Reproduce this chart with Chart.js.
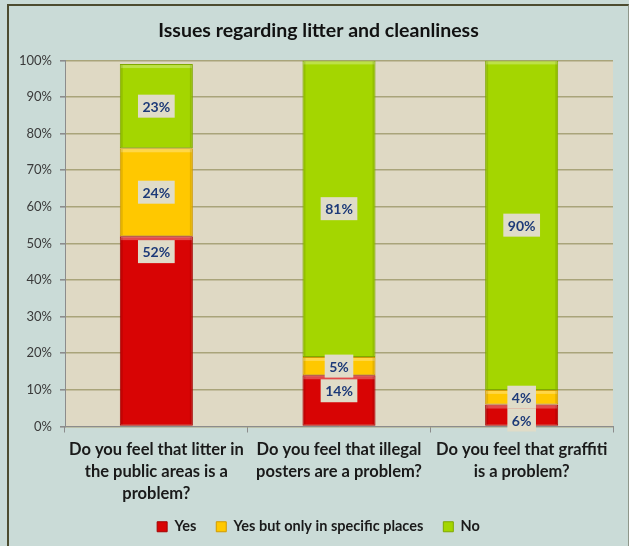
<!DOCTYPE html>
<html>
<head>
<meta charset="utf-8">
<title>Issues regarding litter and cleanliness</title>
<script src="https://cdn.jsdelivr.net/npm/chart.js@4.4.0/dist/chart.umd.min.js"></script>
<style>
  html, body { margin: 0; padding: 0; background: #cadbd7; }
  #frame {
    position: absolute; left: 7px; top: 4px; width: 619px; height: 560px;
    border-left: 2px solid #4d4c30; border-top: 2px solid #4d4c30; border-right: 1px solid #8f978a;
  }
  #box { position: absolute; left: 0; top: 0; width: 629px; height: 546px; }
</style>
</head>
<body>
<div id="frame"></div>
<div id="box"><canvas id="chart" width="629" height="546"></canvas></div>
<script>
const categories = [
  ["Do you feel that litter in", "the public areas is a", "problem?"],
  ["Do you feel that illegal", "posters are a problem?"],
  ["Do you feel that graffiti", "is a problem?"]
];
const seriesNames = ["Yes", "Yes but only in specific places", "No"];
const yesValues = [52, 14, 6];
const specificValues = [24, 5, 4];
const noValues = [23, 81, 90];
const yTicks = [0, 10, 20, 30, 40, 50, 60, 70, 80, 90, 100];

const FONT = "Lato, 'Open Sans', sans-serif";

// tan background behind the bars
const plotBackground = {
  id: "plotBackground",
  beforeDraw(chart) {
    const a = chart.chartArea, ctx = chart.ctx;
    ctx.save();
    ctx.fillStyle = "#dfd9c4";
    ctx.fillRect(a.left, a.top, a.right - a.left, a.bottom - a.top);
    ctx.restore();
  }
};

// light top edge and shaded sides so the segments look bevelled
const bevel = {
  id: "bevel",
  afterDatasetsDraw(chart) {
    const ctx = chart.ctx;
    ctx.save();
    chart.data.datasets.forEach((ds, d) => {
      chart.getDatasetMeta(d).data.forEach(bar => {
        const left = bar.x - bar.width / 2, top = bar.y, h = bar.base - bar.y;
        ctx.fillStyle = "rgba(255,255,255,0.28)";
        ctx.fillRect(left + 1, top + 1, bar.width - 2, Math.min(3, h - 2));
        ctx.fillStyle = "rgba(0,0,0,0.10)";
        ctx.fillRect(left + 1, top + 1, 2, h - 2);
        ctx.fillRect(left + bar.width - 3, top + 1, 2, h - 2);
      });
    });
    ctx.restore();
  }
};

// percentage tags: middle of the segment, or just inside its top for tagAt "end"
const segmentTags = {
  id: "segmentTags",
  afterDatasetsDraw(chart) {
    const ctx = chart.ctx;
    const boxH = 23;
    ctx.save();
    ctx.font = "bold 14px " + FONT;
    ctx.textAlign = "center";
    ctx.textBaseline = "middle";
    chart.data.datasets.forEach((ds, d) => {
      chart.getDatasetMeta(d).data.forEach((bar, i) => {
        const text = ds.data[i] + "%";
        const y = ds.tagAt === "end" ? bar.y + 4 + boxH / 2 : (bar.y + bar.base) / 2;
        const w = ctx.measureText(text).width + 9;
        ctx.fillStyle = "#e0dcc8";
        ctx.fillRect(bar.x - w / 2, y - boxH / 2, w, boxH);
        ctx.fillStyle = "#1d3a78";
        ctx.fillText(text, bar.x, y + 1);
      });
    });
    ctx.restore();
  }
};

function barSet(label, values, fill, edge, tagAt) {
  return {
    label: label,
    data: values,
    backgroundColor: fill,
    borderColor: edge,
    borderWidth: 1,
    borderSkipped: false,
    barPercentage: 0.4,
    categoryPercentage: 1,
    tagAt: tagAt
  };
}

new Chart(document.getElementById("chart"), {
  type: "bar",
  data: {
    labels: categories,
    datasets: [
      barSet(seriesNames[0], yesValues, "#d80404", "#a30000", "end"),
      barSet(seriesNames[1], specificValues, "#ffc800", "#d19a00", "center"),
      barSet(seriesNames[2], noValues, "#a4d600", "#7fa800", "center")
    ]
  },
  options: {
    responsive: false,
    animation: false,
    layout: { padding: { left: 8, right: 0, top: 8, bottom: 2 } },
    plugins: {
      title: {
        display: true,
        text: "Issues regarding litter and cleanliness",
        color: "#111",
        font: { family: FONT, size: 19.5, weight: "bold" },
        padding: { top: 11, bottom: 18 }
      },
      legend: {
        position: "bottom",
        labels: {
          color: "#1a1a1a",
          font: { family: FONT, size: 14.5, weight: "bold" },
          boxWidth: 10,
          boxHeight: 10,
          padding: 20
        }
      },
      tooltip: { enabled: false }
    },
    scales: {
      x: {
        stacked: true,
        afterFit(scale) {
          // tighter axis box; let the last label line run past it unclipped
          scale.height -= 11;
          scale._computeLabelArea = () => null;
        },
        grid: { display: true, drawOnChartArea: false, offset: true, tickLength: 6, color: "#8c8c8c" },
        border: { color: "#8c8c8c" },
        ticks: {
          color: "#1a1a1a",
          padding: 6,
          maxRotation: 0,
          font: { family: FONT, size: 16.5, weight: "bold", lineHeight: "22px" }
        }
      },
      y: {
        stacked: true,
        min: 0,
        max: 100,
        afterBuildTicks(scale) { scale.ticks = yTicks.map(v => ({ value: v })); },
        afterFit(scale) { scale.width = 57; },
        grid: { color: "#a9a47a", lineWidth: 1.6, tickLength: 5, tickColor: "#8c8c8c" },
        border: { color: "#8c8c8c" },
        ticks: {
          color: "#3a3a3a",
          padding: 8,
          font: { family: FONT, size: 13 },
          callback: v => v + "%"
        }
      },
      edge: {
        type: "linear",
        position: "right",
        display: true,
        grid: { display: false },
        border: { display: false },
        ticks: { display: false },
        afterFit(scale) { scale.width = 16; }
      }
    }
  },
  plugins: [plotBackground, bevel, segmentTags]
});
</script>
</body>
</html>
